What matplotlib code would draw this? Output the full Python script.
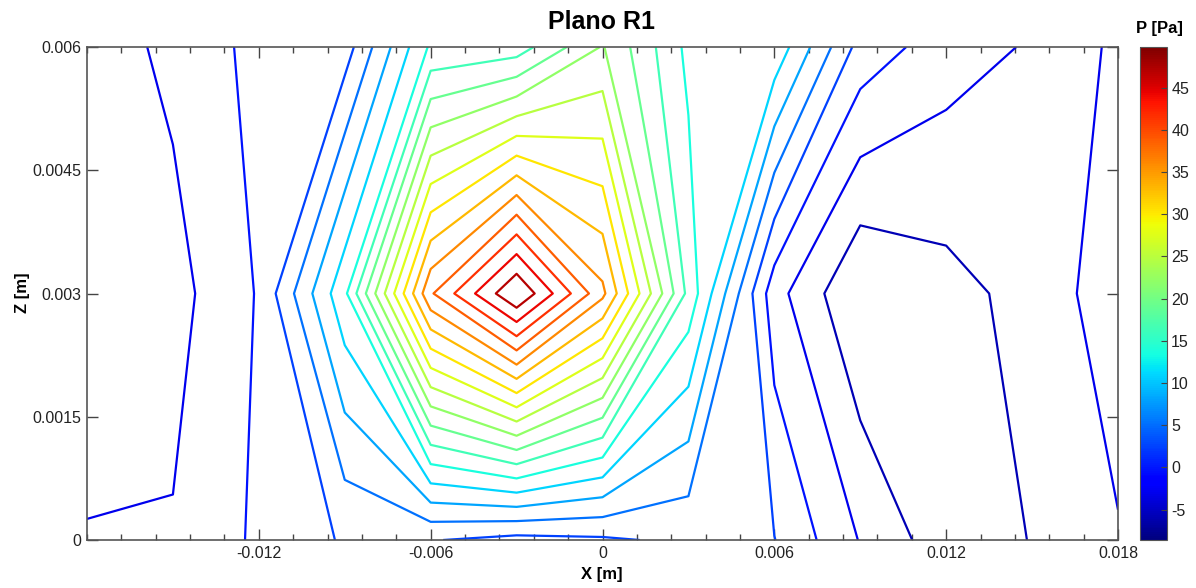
import numpy as np
import matplotlib
matplotlib.use("Agg")
import matplotlib.pyplot as plt
from matplotlib import colors, cm
from matplotlib.ticker import FixedLocator

plt.rcParams['font.family'] = ['Liberation Sans', 'DejaVu Sans']
plt.rcParams['axes.unicode_minus'] = False

# measurement grid (m)
x_nodes = [-0.018, -0.015, -0.012, -0.009, -0.006, -0.003, 0.0,
           0.003, 0.006, 0.009, 0.012, 0.015, 0.018]
z_nodes = [0.0, 0.003, 0.006]

# pressure [Pa] read at each node, one row per z level
p_z0 = [-2.92, -2.8, 0.23, 2.82, 2.68, 1.61, 2.1, 3.08, 2.6, -3.2, -7.53, -5.71, -3.27]
p_z3 = [-4.3, -4.09, -0.03, 13.0, 38.3, 49.8, 36.6, 15.6, -1.95, -8.6, -6.8, -4.84, -1.38]
p_z6 = [-4.65, -2.35, 0.59, 1.15, 14.1, 15.0, 22.2, 12.9, 12.85, 1.46, -1.75, -3.33, -2.97]

cbar_ticks = [-5, 0, 5, 10, 15, 20, 25, 30, 35, 40, 45]

P = np.array([p_z0, p_z3, p_z6])
X, Z = np.meshgrid(x_nodes, z_nodes)
p_min, p_max = P.min(), P.max()
levels = np.linspace(p_min, p_max, 22)[1:-1]   # 20 contour levels
norm = colors.Normalize(p_min, p_max)

W, H = 1196, 588
fig = plt.figure(figsize=(W / 100, H / 100), dpi=100)
ax = fig.add_axes([87 / W, 1 - 540 / H, (1118 - 87) / W, (540 - 47) / H])
ax.contour(X, Z, P, levels=levels, cmap='jet', norm=norm, linewidths=1.6)

ax.set_xlim(-0.018, 0.018)
ax.set_ylim(0, 0.006)
ax.xaxis.set_major_locator(FixedLocator([-0.012, -0.006, 0, 0.006, 0.012, 0.018]))
ax.set_xticklabels(['-0.012', '-0.006', '0', '0.006', '0.012', '0.018'])
ax.xaxis.set_minor_locator(FixedLocator(np.arange(-0.018, 0.0181, 0.0012)))
ax.yaxis.set_major_locator(FixedLocator([0, 0.0015, 0.003, 0.0045, 0.006]))
ax.set_yticklabels(['0', '0.0015', '0.003', '0.0045', '0.006'])
ax.tick_params(which='both', direction='in', top=True, right=True,
               labelsize=11.5, color='#444444', labelcolor='#222222', pad=4)
ax.tick_params(which='major', length=8, width=1)
ax.tick_params(which='minor', length=4, width=1)
for s in ax.spines.values():
    s.set_color('#555555')
    s.set_linewidth(1.2)

fig.text(602 / W, 1 - 22 / H, "Plano R1", ha='center', va='center',
         fontsize=18, fontweight='bold')
fig.text(602 / W, 1 - 575 / H, "X [m]", ha='center', va='center',
         fontsize=12, fontweight='bold')
fig.text(22 / W, 1 - 293 / H, "Z [m]", ha='center', va='center',
         fontsize=12, fontweight='bold', rotation=90)
fig.text(1159 / W, 1 - 28 / H, "P [Pa]", ha='center', va='center',
         fontsize=12, fontweight='bold')

cax = fig.add_axes([1140 / W, 1 - 540 / H, 27 / W, (540 - 47) / H])
sm = cm.ScalarMappable(norm=norm, cmap='jet')
cb = fig.colorbar(sm, cax=cax)
cb.set_ticks(cbar_ticks)
cb.ax.tick_params(direction='in', length=4, labelsize=11.5, color='#444444',
                  labelcolor='#222222', pad=3)
cb.outline.set_edgecolor('#555555')

fig.savefig("out.png", dpi=100)
